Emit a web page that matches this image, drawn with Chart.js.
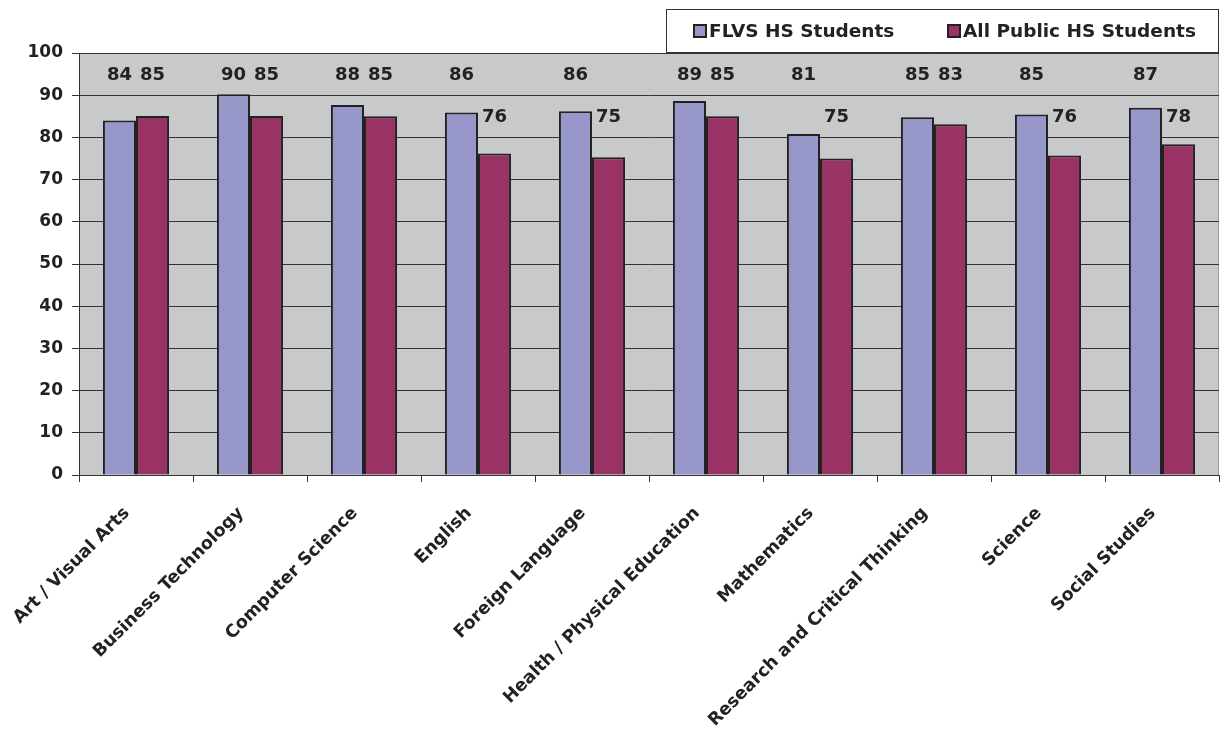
<!DOCTYPE html>
<html>
<head>
<meta charset="utf-8">
<script src="https://cdn.jsdelivr.net/npm/chart.js@4.4.1/dist/chart.umd.min.js"></script>
<style>
  html, body { margin: 0; padding: 0; background: #fff; }
  #wrap { width: 1224px; height: 736px; position: relative; }
</style>
</head>
<body>
<div id="wrap"><canvas id="c" width="1224" height="736"></canvas></div>
<script>
// subjects on the x axis
const subjects = [
  "Art / Visual Arts", "Business Technology", "Computer Science", "English",
  "Foreign Language", "Health / Physical Education", "Mathematics",
  "Research and Critical Thinking", "Science", "Social Studies",
];
// percent values
const flvs = [84.0, 90.2, 87.7, 85.9, 86.2, 88.6, 80.8, 84.8, 85.4, 87.0];
const allPublic = [85.1, 85.1, 85.0, 76.2, 75.3, 85.0, 75.0, 83.1, 75.7, 78.4];
const yTicks = [0, 10, 20, 30, 40, 50, 60, 70, 80, 90, 100];

const FONT = '"DejaVu Sans", Arial, sans-serif';
const INK = "#222";
const PLOT_BG = "#c8c9cb";
const C_FLVS = "#9797ca";
const C_PUB = "#993366";

Chart.defaults.font.family = FONT;
Chart.defaults.color = INK;

// gray plot background
const plotBg = {
  id: "plotBg",
  beforeDraw(chart) {
    const { ctx, chartArea: a } = chart;
    ctx.save();
    ctx.fillStyle = PLOT_BG;
    ctx.fillRect(a.left, a.top, a.right - a.left, a.bottom - a.top);
    ctx.strokeStyle = "#9a9a9a";
    ctx.lineWidth = 1;
    ctx.beginPath();
    ctx.moveTo(a.right - 0.5, a.top);
    ctx.lineTo(a.right - 0.5, a.bottom);
    ctx.stroke();
    ctx.restore();
  },
};

// value labels: high bars get their label near the top, the low ones one row down
const valueLabels = {
  id: "valueLabels",
  afterDatasetsDraw(chart) {
    const { ctx } = chart;
    const y = chart.scales.y;
    ctx.save();
    ctx.font = "bold 18px " + FONT;
    ctx.fillStyle = INK;
    ctx.textAlign = "center";
    ctx.textBaseline = "middle";
    chart.data.datasets.forEach((ds, i) => {
      chart.getDatasetMeta(i).data.forEach((bar, j) => {
        const v = ds.data[j];
        const py = y.getPixelForValue(v >= 80 ? 94.8 : 84.7);
        ctx.fillText(String(Math.round(v)), bar.x, py);
      });
    });
    ctx.restore();
  },
};

// boxed legend at the top right
const boxLegend = {
  id: "boxLegend",
  afterDraw(chart) {
    const { ctx, chartArea: a } = chart;
    const left = 666.5, top = 9.5, right = a.right - 0.5, bottom = a.top - 0.5;
    ctx.save();
    ctx.fillStyle = "#fff";
    ctx.fillRect(left, top, right - left, bottom - top);
    ctx.strokeStyle = "#333";
    ctx.lineWidth = 1;
    ctx.strokeRect(left, top, right - left, bottom - top);
    ctx.font = "bold 18.5px " + FONT;
    ctx.textBaseline = "middle";
    ctx.textAlign = "left";
    const cy = (top + bottom) / 2;
    const items = [[694, chart.data.datasets[0]], [948, chart.data.datasets[1]]];
    items.forEach(([x, ds]) => {
      ctx.fillStyle = ds.backgroundColor;
      ctx.fillRect(x, cy - 6, 12, 12);
      ctx.strokeStyle = INK;
      ctx.lineWidth = 2;
      ctx.strokeRect(x, cy - 6, 12, 12);
      ctx.fillStyle = INK;
      ctx.fillText(ds.label, x + 15, cy + 1);
    });
    ctx.restore();
  },
};

new Chart(document.getElementById("c"), {
  type: "bar",
  data: {
    labels: subjects,
    datasets: [
      { label: "FLVS HS Students", data: flvs, backgroundColor: C_FLVS, borderColor: INK, borderWidth: 2 },
      { label: "All Public HS Students", data: allPublic, backgroundColor: C_PUB, borderColor: INK, borderWidth: 2 },
    ],
  },
  options: {
    responsive: false,
    animation: false,
    devicePixelRatio: 1,
    layout: { padding: { top: 53, right: 5, left: 0, bottom: 0 } },
    plugins: { legend: { display: false }, tooltip: { enabled: false } },
    datasets: { bar: { categoryPercentage: 0.58, barPercentage: 1 } },
    scales: {
      x: {
        grid: { drawOnChartArea: false, offset: true, tickLength: 7, color: "#333" },
        border: { color: "#333", width: 1 },
        ticks: {
          autoSkip: false, minRotation: 45, maxRotation: 45, padding: 21, labelOffset: -9,
          font: { size: 17.5, weight: "bold" }, color: INK,
        },
        afterFit(s) { s.height = 261; },
      },
      y: {
        min: 0, max: 100,
        afterBuildTicks(s) { s.ticks = yTicks.map(v => ({ value: v })); },
        grid: { color: "#333", lineWidth: 1, tickLength: 7 },
        border: { color: "#333", width: 1 },
        ticks: { padding: 9, font: { size: 17, weight: "bold" }, color: INK },
        afterFit(s) { s.width = 79; },
      },
    },
  },
  plugins: [plotBg, valueLabels, boxLegend],
});
</script>
</body>
</html>
